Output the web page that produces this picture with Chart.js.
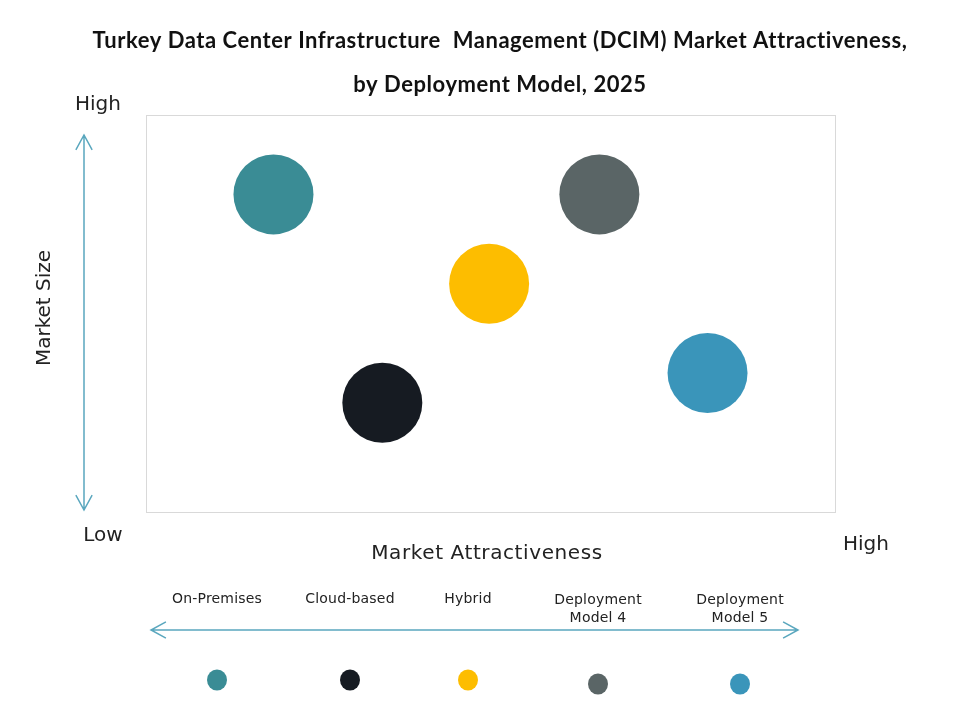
<!DOCTYPE html>
<html>
<head>
<meta charset="utf-8">
<title>Turkey DCIM Market Attractiveness</title>
<script src="https://cdn.jsdelivr.net/npm/chart.js@4.4.1/dist/chart.umd.min.js"></script>
<style>
    html, body { margin: 0; padding: 0; background: #fff; }
    #wrap { width: 958px; height: 703px; position: relative; }
</style>
</head>
<body>
<div id="wrap"><canvas id="myChart"></canvas></div>
<script>
// data
const models = ["On-Premises", "Cloud-based", "Hybrid", "Deployment Model 4", "Deployment Model 5"];
const attractiveness = [1.85, 3.43, 4.98, 6.58, 8.15];
const marketSize = [8.0, 2.75, 5.75, 8.0, 3.5];
const colors = ["#3A8C95", "#161B22", "#FDBD00", "#5A6566", "#3A95BA"];
const titleLines = [
    "Turkey Data Center Infrastructure  Management (DCIM) Market Attractiveness,",
    "by Deployment Model, 2025"
];
const xAxisLabel = "Market Attractiveness";
const yAxisLabel = "Market Size";

const arrowColor = "#5AA7BE";
const bodyFont = "'DejaVu Sans', sans-serif";

const drawArrow = (ctx, x1, y1, x2, y2) => {
    const ang = Math.atan2(y2 - y1, x2 - x1);
    const len = 17, spread = 0.5;
    ctx.beginPath();
    ctx.moveTo(x1, y1);
    ctx.lineTo(x2, y2);
    [[x1, y1, ang], [x2, y2, ang + Math.PI]].forEach(([x, y, a]) => {
        ctx.moveTo(x + len * Math.cos(a + spread), y + len * Math.sin(a + spread));
        ctx.lineTo(x, y);
        ctx.lineTo(x + len * Math.cos(a - spread), y + len * Math.sin(a - spread));
    });
    ctx.stroke();
};

const frame = {
    id: "frame",
    beforeDatasetsDraw(chart) {
        const { ctx, chartArea: a } = chart;
        ctx.save();
        ctx.strokeStyle = "#d9d9d9";
        ctx.lineWidth = 1;
        ctx.strokeRect(a.left + 0.5, a.top + 0.5, a.width, a.height);
        ctx.restore();
    },
    afterDraw(chart) {
        const { ctx } = chart;
        ctx.save();
        ctx.textAlign = "center";
        ctx.textBaseline = "middle";

        // title
        ctx.fillStyle = "#111";
        ctx.font = "bold 22px Lato, sans-serif";
        ctx.letterSpacing = "0.55px";
        ctx.fillText(titleLines[0], 500, 41);
        ctx.fillText(titleLines[1], 500, 85);

        // axis words
        ctx.fillStyle = "#222";
        ctx.font = "20px " + bodyFont;
        ctx.letterSpacing = "0px";
        ctx.fillText("High", 98, 105);
        ctx.fillText("Low", 103, 536);
        ctx.fillText("High", 866, 545);
        ctx.letterSpacing = "0.6px";
        ctx.fillText(xAxisLabel, 487, 554);
        ctx.save();
        ctx.translate(45, 308);
        ctx.rotate(-Math.PI / 2);
        ctx.letterSpacing = "0px";
        ctx.fillText(yAxisLabel, 0, 0);
        ctx.restore();

        // arrows
        ctx.strokeStyle = arrowColor;
        ctx.lineWidth = 1.5;
        drawArrow(ctx, 84, 135, 84, 510);
        drawArrow(ctx, 151, 630, 798, 630);

        // bottom key
        const keyX = [217, 350, 468, 598, 740];
        const dotY = [680, 680, 680, 684, 684];
        ctx.font = "14px " + bodyFont;
        ctx.letterSpacing = "0.2px";
        models.forEach((name, i) => {
            ctx.fillStyle = "#222";
            const m = name.match(/^(Deployment) (.*)$/);
            if (m) {
                ctx.fillText(m[1], keyX[i], 600);
                ctx.fillText(m[2], keyX[i], 618);
            } else {
                ctx.fillText(name, keyX[i], 599);
            }
            ctx.fillStyle = colors[i];
            ctx.beginPath();
            ctx.ellipse(keyX[i], dotY[i], 10, 10.5, 0, 0, Math.PI * 2);
            ctx.fill();
        });
        ctx.restore();
    }
};

new Chart(document.getElementById("myChart"), {
    type: "bubble",
    data: {
        datasets: models.map((name, i) => ({
            label: name,
            data: [{ x: attractiveness[i], y: marketSize[i] }],
            backgroundColor: colors[i],
            borderColor: colors[i],
            borderWidth: 0,
            radius: 40,
            clip: false
        }))
    },
    options: {
        responsive: true,
        maintainAspectRatio: false,
        animation: false,
        layout: { padding: { left: 146, top: 115, right: 123, bottom: 191 } },
        scales: {
            x: { display: false, min: 0, max: 10 },
            y: { display: false, min: 0, max: 10 }
        },
        plugins: {
            legend: { display: false },
            tooltip: { enabled: false }
        }
    },
    plugins: [frame]
});
</script>
</body>
</html>
